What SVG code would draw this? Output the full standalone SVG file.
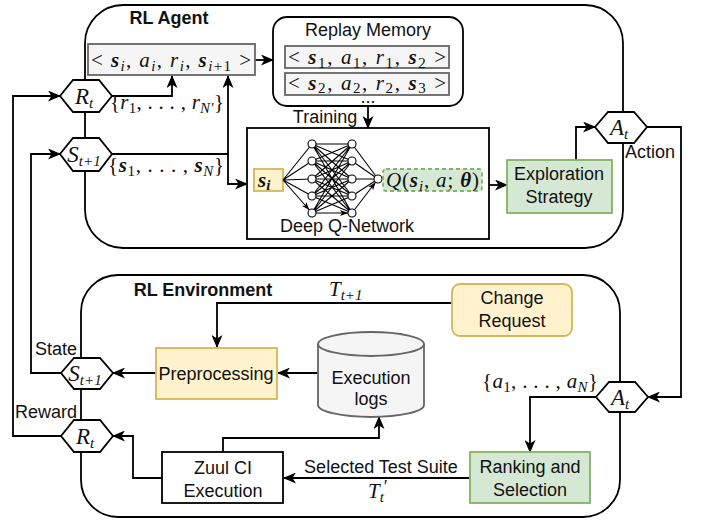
<svg xmlns="http://www.w3.org/2000/svg" width="702" height="521" viewBox="0 0 702 521">
<defs>
<marker id="arr" viewBox="0 0 13 11" refX="12" refY="5.5" markerWidth="13" markerHeight="11" markerUnits="userSpaceOnUse" orient="auto"><path d="M0,0 L13,5.5 L0,11 L3.5,5.5 z" fill="#000"/></marker>
<marker id="sm" viewBox="0 0 12 6" refX="12" refY="3" markerWidth="12" markerHeight="6" markerUnits="userSpaceOnUse" orient="auto"><path d="M0,0 L8,3 L0,6 L2,3 z" fill="#000"/></marker>
</defs>
<style>
.c{fill:none;stroke:#000;stroke-width:1.8;marker-end:url(#arr)}
.nn{fill:none;stroke:#000;stroke-width:1.1;marker-end:url(#sm)}
.cont{fill:#fff;stroke:#000;stroke-width:1.8}
.box{fill:#fff;stroke:#000;stroke-width:1.8}
.gray{fill:#f5f5f5;stroke:#666;stroke-width:1.8}
.org{fill:#fff2cc;stroke:#d6b656;stroke-width:1.8}
.grn{fill:#d5e8d4;stroke:#82b366;stroke-width:1.8}
.hex{fill:#fff;stroke:#000;stroke-width:1.8}
.t{font-family:"Liberation Sans",Arial,sans-serif;font-size:18px;fill:#111;text-anchor:middle}
.tl{font-family:"Liberation Sans",Arial,sans-serif;font-size:18px;fill:#111}
.b{font-weight:bold}
.m{font-family:"Liberation Serif","Times New Roman",serif;font-size:21px;fill:#111}
.h{font-family:"Liberation Serif","Times New Roman",serif;font-size:23px;font-style:italic;fill:#111}
.bi{font-weight:bold;font-style:italic}
.i{font-style:italic}
.node{fill:#fff;stroke:#000;stroke-width:1.1}
</style>

<g id="agent">
<rect x="85" y="5" width="538" height="243" rx="38" ry="38" class="cont"/>
<text x="169" y="24" class="t b">RL Agent</text>
</g>
<g id="environment">
<rect x="81" y="275" width="539" height="242" rx="37" ry="37" class="cont"/>
<text x="203" y="296" class="t b">RL Environment</text>
</g>

<g id="connectors">
<path class="c" d="M255,60 H273"/>
<path class="c" d="M368,106 V128"/>
<path class="c" d="M111,96 H172 V76"/>
<path class="c" d="M111,154 H228 V76"/>
<path class="c" d="M228,154 V184 H247"/>
<path class="c" d="M489,185 H507"/>
<path class="c" d="M576,160 V127 H595"/>
<path class="c" d="M647,127 H681 V397 H648"/>
<path class="c" d="M596,397 H530 V452"/>
<path class="c" d="M470,478 H284"/>
<path class="c" d="M162,478 H133 V436 H113"/>
<path class="c" d="M223,452 V438 H379 V417"/>
<path class="c" d="M318,373 H278"/>
<path class="c" d="M156,373 H113"/>
<path class="c" d="M452,303 H217 V347"/>
<path class="c" d="M61,373 H31 V154 H60"/>
<path class="c" d="M61,436 H13 V96 H60"/>
</g>

<g id="transition">
<rect x="88" y="44" width="167" height="31" class="gray"/>
<text x="91" y="67" class="m" font-size="22" textLength="160" lengthAdjust="spacing">&lt; <tspan class="bi">s</tspan><tspan font-size="15" class="i" dy="4">i</tspan><tspan dy="-4">, </tspan><tspan class="i">a</tspan><tspan font-size="15" class="i" dy="4">i</tspan><tspan dy="-4">, </tspan><tspan class="i">r</tspan><tspan font-size="15" class="i" dy="4">i</tspan><tspan dy="-4">, </tspan><tspan class="bi">s</tspan><tspan font-size="15" class="i" dy="4">i</tspan><tspan font-size="15">+1</tspan><tspan dy="-4"> &gt;</tspan></text>
</g>

<g id="replay-memory">
<rect x="273" y="17" width="190" height="89" rx="14" ry="14" class="box"/>
<text x="368" y="36" class="t">Replay Memory</text>
<rect x="285" y="46" width="164" height="22" class="gray"/>
<text x="288" y="64" class="m" font-size="21" textLength="158" lengthAdjust="spacing">&lt; <tspan class="bi">s</tspan><tspan font-size="15" dy="4">1</tspan><tspan dy="-4">, </tspan><tspan class="i">a</tspan><tspan font-size="15" dy="4">1</tspan><tspan dy="-4">, </tspan><tspan class="i">r</tspan><tspan font-size="15" dy="4">1</tspan><tspan dy="-4">, </tspan><tspan class="bi">s</tspan><tspan font-size="15" dy="4">2</tspan><tspan dy="-4"> &gt;</tspan></text>
<rect x="285" y="73" width="164" height="22" class="gray"/>
<text x="288" y="90" class="m" font-size="21" textLength="158" lengthAdjust="spacing">&lt; <tspan class="bi">s</tspan><tspan font-size="15" dy="3">2</tspan><tspan dy="-3">, </tspan><tspan class="i">a</tspan><tspan font-size="15" dy="3">2</tspan><tspan dy="-3">, </tspan><tspan class="i">r</tspan><tspan font-size="15" dy="3">2</tspan><tspan dy="-3">, </tspan><tspan class="bi">s</tspan><tspan font-size="15" dy="3">3</tspan><tspan dy="-3"> &gt;</tspan></text>
<text x="368" y="103" class="t" font-size="10">...</text>
</g>

<text x="325" y="123" class="t">Training</text>

<g id="dqn">
<rect x="247" y="128" width="242" height="111" class="box"/>
<rect x="254" y="169" width="29" height="22" class="org"/>
<text x="258" y="187" class="m bi" font-size="22">s<tspan font-size="15" dy="3">i</tspan></text>
<g id="net">
<path class="nn" d="M283,180 L312,144 M283,180 L312,161 M283,180 L312,179 M283,180 L312,196 M283,180 L312,213"/>
<path class="nn" d="M312,144 L352,144 M312,144 L352,161 M312,144 L352,179 M312,144 L352,196 M312,144 L352,213
M312,161 L352,144 M312,161 L352,161 M312,161 L352,179 M312,161 L352,196 M312,161 L352,213
M312,179 L352,144 M312,179 L352,161 M312,179 L352,179 M312,179 L352,196 M312,179 L352,213
M312,196 L352,144 M312,196 L352,161 M312,196 L352,179 M312,196 L352,196 M312,196 L352,213
M312,213 L352,144 M312,213 L352,161 M312,213 L352,179 M312,213 L352,196 M312,213 L352,213"/>
<path class="nn" d="M352,144 L378,179 M352,161 L378,179 M352,179 L378,179 M352,196 L378,179 M352,213 L378,179"/>
<circle cx="312" cy="144" r="4" class="node"/><circle cx="312" cy="161" r="4" class="node"/><circle cx="312" cy="179" r="4" class="node"/><circle cx="312" cy="196" r="4" class="node"/><circle cx="312" cy="213" r="4" class="node"/>
<circle cx="352" cy="144" r="4" class="node"/><circle cx="352" cy="161" r="4" class="node"/><circle cx="352" cy="179" r="4" class="node"/><circle cx="352" cy="196" r="4" class="node"/><circle cx="352" cy="213" r="4" class="node"/>
<circle cx="378" cy="179" r="4" class="node"/>
</g>
<rect x="383" y="169" width="99" height="22" rx="3" class="grn" stroke-dasharray="4 3"/>
<text x="386" y="187" class="m" textLength="93" lengthAdjust="spacing"><tspan class="i">Q</tspan>(<tspan class="bi">s</tspan><tspan font-size="15" class="i" dy="4">i</tspan><tspan dy="-4">, </tspan><tspan class="i">a</tspan>; <tspan class="bi">θ</tspan>)</text>
<text x="347" y="232" class="t">Deep Q-Network</text>
</g>

<g id="exploration">
<rect x="507" y="160" width="105" height="53" class="grn"/>
<text x="559" y="180" class="t">Exploration</text>
<text x="559" y="203" class="t">Strategy</text>
</g>

<g id="action-agent">
<polygon points="595,127 608,112 634,112 647,127 634,143 608,143" class="hex"/>
<text x="619" y="135" class="h" text-anchor="middle">A<tspan font-size="15" dy="4">t</tspan></text>
<text x="625" y="158" class="tl">Action</text>
</g>

<g id="reward-agent">
<polygon points="60,96 73,80 99,80 112,96 99,112 73,112" class="hex"/>
<text x="84" y="104" class="h" text-anchor="middle">R<tspan font-size="15" dy="4">t</tspan></text>
<text x="110" y="109" class="m" textLength="114" lengthAdjust="spacing">{<tspan class="i">r</tspan><tspan font-size="15" dy="4">1</tspan><tspan dy="-4">, . . . , </tspan><tspan class="i">r</tspan><tspan font-size="15" class="i" dy="4">N′</tspan><tspan dy="-4">}</tspan></text>
</g>

<g id="state-agent">
<polygon points="60,154 73,138 99,138 112,154 99,171 73,171" class="hex"/>
<text x="84" y="162" class="h" text-anchor="middle">S<tspan font-size="15" dy="4">t+1</tspan></text>
<text x="108" y="172" class="m" textLength="116" lengthAdjust="spacing">{<tspan class="bi">s</tspan><tspan font-size="15" dy="4">1</tspan><tspan dy="-4">, . . . , </tspan><tspan class="bi">s</tspan><tspan font-size="15" class="i" dy="4">N</tspan><tspan dy="-4">}</tspan></text>
</g>

<g id="change-request">
<rect x="452" y="284" width="120" height="52" rx="8" ry="8" class="org"/>
<text x="512" y="304" class="t">Change</text>
<text x="512" y="327" class="t">Request</text>
</g>
<text x="329" y="296" class="m i" font-size="22">T<tspan font-size="15" dy="4">t+1</tspan></text>

<g id="preprocessing">
<rect x="156" y="348" width="121" height="51" class="org"/>
<text x="216" y="380" class="t">Preprocessing</text>
</g>

<g id="execution-logs">
<path d="M318,344 a53,12 0 0 1 106,0 v61 a53,12 0 0 1 -106,0 z" class="gray"/>
<path d="M318,344 a53,12 0 0 0 106,0" fill="none" stroke="#666" stroke-width="1.8"/>
<text x="371" y="384" class="t">Execution</text>
<text x="371" y="405" class="t">logs</text>
</g>

<g id="state-env">
<polygon points="61,373 74,358 100,358 113,373 100,389 74,389" class="hex"/>
<text x="85" y="381" class="h" text-anchor="middle">S<tspan font-size="15" dy="4">t+1</tspan></text>
<text x="56" y="355" class="t">State</text>
</g>

<g id="reward-env">
<polygon points="61,436 74,420 100,420 113,436 100,452 74,452" class="hex"/>
<text x="85" y="444" class="h" text-anchor="middle">R<tspan font-size="15" dy="4">t</tspan></text>
<text x="46" y="418" class="t">Reward</text>
</g>

<g id="action-env">
<polygon points="596,397 609,382 635,382 648,397 635,412 609,412" class="hex"/>
<text x="620" y="405" class="h" text-anchor="middle">A<tspan font-size="15" dy="4">t</tspan></text>
<text x="482" y="388" class="m" textLength="116" lengthAdjust="spacing">{<tspan class="i">a</tspan><tspan font-size="15" dy="4">1</tspan><tspan dy="-4">, . . . , </tspan><tspan class="i">a</tspan><tspan font-size="15" class="i" dy="4">N</tspan><tspan dy="-4">}</tspan></text>
</g>

<g id="ranking">
<rect x="470" y="452" width="120" height="51" class="grn"/>
<text x="530" y="473" class="t">Ranking and</text>
<text x="530" y="496" class="t">Selection</text>
</g>

<g id="zuul">
<rect x="162" y="452" width="121" height="51" class="box"/>
<text x="223" y="474" class="t">Zuul CI</text>
<text x="223" y="497" class="t">Execution</text>
</g>
<text x="381" y="473" class="t">Selected Test Suite</text>
<text x="368" y="498" class="m i" font-size="22">T<tspan font-size="15" dy="4">t</tspan><tspan dy="-9" font-size="18" font-style="normal">′</tspan></text>
</svg>
